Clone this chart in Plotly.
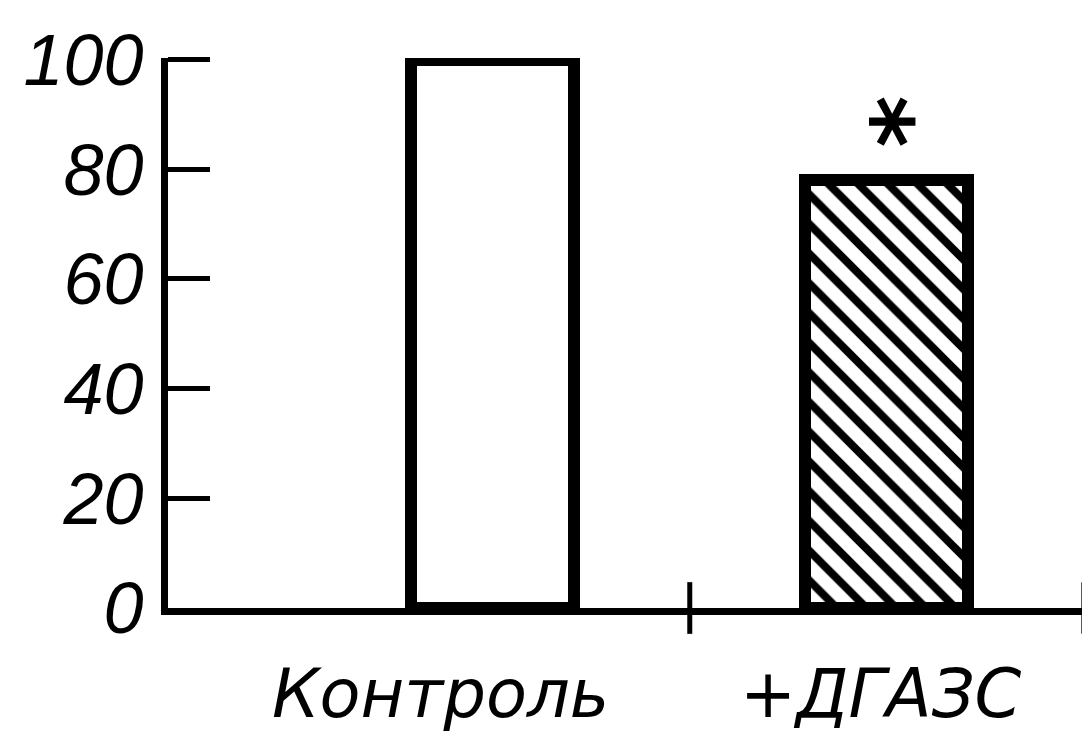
import plotly.graph_objects as go

categories = ["Контроль", "+ДГАЗС"]
values = [100, 78]
patterns = ["", "\\"]
significance = ["", "*"]
y_ticks = [0, 20, 40, 60, 80, 100]

# styling only (pixel offsets of the hand-lettered category labels)
label_xshift = [-52, -6]

x_pos = list(range(len(categories)))

fig = go.Figure()
fig.add_trace(go.Bar(
    x=x_pos, y=values, width=0.413,
    marker=dict(color="white",
                line=dict(color="black", width=12),
                pattern=dict(shape=patterns, fgcolor="black", bgcolor="white",
                             size=21, solidity=0.38, fillmode="replace")),
    cliponaxis=False, showlegend=False,
))

for i, s in enumerate(significance):
    if s:
        fig.add_annotation(x=x_pos[i], y=values[i], text=s, showarrow=False,
                           textangle=90, yanchor="bottom", yshift=31, xshift=-11,
                           font=dict(family="DejaVu Sans", size=100, color="black",
                                     weight="bold"))

for i, c in enumerate(categories):
    fig.add_annotation(x=x_pos[i], y=0, xref="x", yref="y", text=c, showarrow=False,
                       yanchor="top", yshift=-45, xshift=label_xshift[i],
                       font=dict(family="DejaVu Sans", size=67, color="black",
                                 style="italic"))

# boundary tick marks crossing the x axis
for b in [i + 0.5 for i in x_pos]:
    fig.add_shape(type="line", xref="x", yref="paper", x0=b, x1=b, y0=-0.047, y1=0.047,
                  line=dict(color="black", width=5))

fig.update_layout(
    width=1090, height=741,
    margin=dict(l=160, r=11, t=50, b=141, autoexpand=False),
    plot_bgcolor="white", paper_bgcolor="white",
    bargap=0,
)
fig.update_xaxes(
    range=[-0.824, 1.508], showline=True, linecolor="black", linewidth=7,
    tickvals=x_pos, ticktext=["" for _ in categories], ticks="", showgrid=False,
    zeroline=False, automargin=False,
)
fig.update_yaxes(
    range=[0, 100.3], showline=True, linecolor="black", linewidth=7,
    tickvals=y_ticks, ticks="inside", ticklen=42, tickwidth=5, tickcolor="black",
    showgrid=False, zeroline=False, automargin=False,
    tickfont=dict(family="Liberation Sans", size=72, color="black", style="italic"),
    ticklabelstandoff=3,
)

fig.write_html("out.html")
